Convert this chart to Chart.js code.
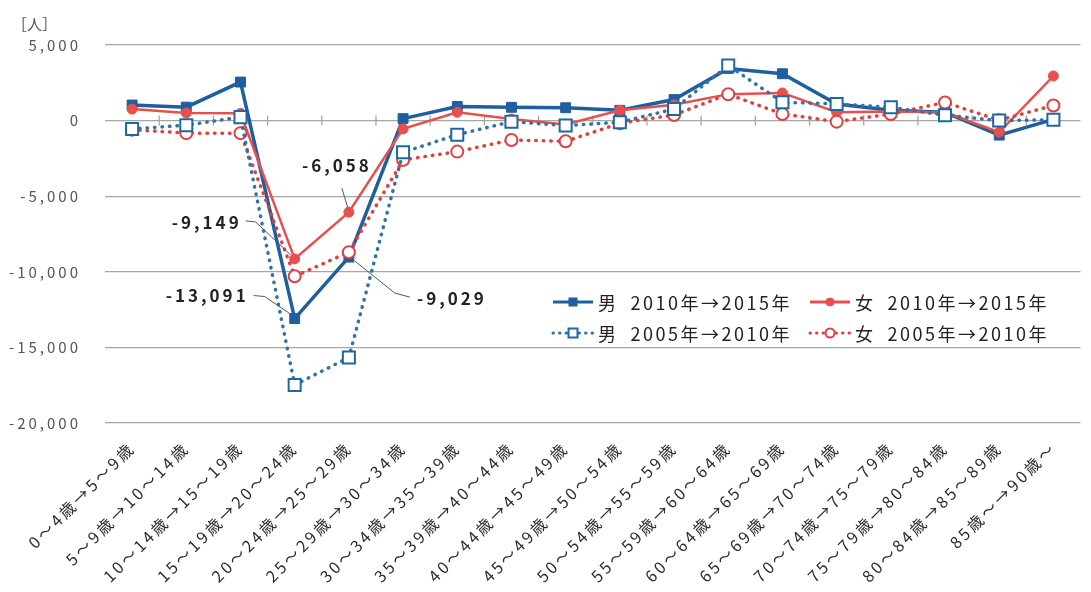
<!DOCTYPE html>
<html lang="ja">
<head>
<meta charset="utf-8">
<title>年齢階級別 人口の増減</title>
<script src="https://cdn.jsdelivr.net/npm/chart.js@4.4.1/dist/chart.umd.min.js"></script>
<style>
  html, body { margin: 0; padding: 0; background: #fff; }
  #wrap { position: relative; width: 1091px; height: 592px; }
  #unit {
    position: absolute; left: 12px; top: 13px;
    font: 15px "Noto Sans CJK JP", sans-serif; color: #555;
  }
  #legend {
    position: absolute; left: 551px; top: 286px;
    font-family: "Noto Sans CJK JP", sans-serif; font-size: 18px;
    color: #222; letter-spacing: 2.5px;
  }
  .row { display: flex; align-items: center; height: 31px; }
  .item { display: flex; align-items: center; width: 257px; white-space: nowrap; }
  .item svg { width: 44px; height: 20px; margin-right: 3px; }
  .item .period { margin-left: 12px; }
</style>
</head>
<body>
<div id="wrap">
  <canvas id="chart" width="1091" height="592"></canvas>
  <div id="unit">［人］</div>
  <div id="legend"></div>
</div>

<script>
'use strict';

// ============================================================
// データ（人口の純増減, 人）
// ============================================================
const CATEGORIES = [
  '0～4歳→5～9歳', '5～9歳→10～14歳', '10～14歳→15～19歳', '15～19歳→20～24歳',
  '20～24歳→25～29歳', '25～29歳→30～34歳', '30～34歳→35～39歳', '35～39歳→40～44歳',
  '40～44歳→45～49歳', '45～49歳→50～54歳', '50～54歳→55～59歳', '55～59歳→60～64歳',
  '60～64歳→65～69歳', '65～69歳→70～74歳', '70～74歳→75～79歳', '75～79歳→80～84歳',
  '80～84歳→85～89歳', '85歳～→90歳～',
];

const MALE_2010_2015   = [1030, 890, 2550, -13091, -9029, 130, 930, 880, 850, 680, 1390, 3450, 3100, 1100, 680, 550, -960, 80];
const FEMALE_2010_2015 = [760, 500, 480, -9149, -6058, -550, 550, 100, -250, 680, 1050, 1750, 1830, 550, 600, 550, -770, 2950];
const MALE_2005_2010   = [-560, -300, 230, -17480, -15670, -2100, -930, -70, -330, -110, 770, 3650, 1215, 1100, 880, 360, 0, 50];
const FEMALE_2005_2010 = [-600, -830, -830, -10300, -8700, -2600, -2050, -1280, -1370, -180, 375, 1740, 440, -70, 440, 1200, 30, 1000];

const Y_MIN = -20000;
const Y_MAX = 5000;
const Y_STEP = 5000;

// 値ラベルを付ける点（系列キー, カテゴリ番号）
const CALLOUTS = [
  { series: 'male2010',   index: 3 },
  { series: 'female2010', index: 3 },
  { series: 'female2010', index: 4 },
  { series: 'male2010',   index: 4 },
];

// ============================================================
// スタイル
// ============================================================
const FONT = '"Noto Sans CJK JP", "Noto Sans", sans-serif';
const BLUE = '#1f5f9f';
const BLUE_DOT = '#2f74a8';
const RED = '#e8504e';
const RED_DOT = '#e0403f';
const GRID = '#a6a6a6';

const SERIES = {
  male2005: {
    label: '男', period: '2005年→2010年', data: MALE_2005_2010,
    borderColor: BLUE_DOT, borderWidth: 3.5, borderDash: [0.5, 7], borderCapStyle: 'round',
    pointStyle: 'rect', pointRadius: 8.5, pointBorderWidth: 2,
    pointBorderColor: '#1f67a3', pointBackgroundColor: '#fff',
  },
  female2005: {
    label: '女', period: '2005年→2010年', data: FEMALE_2005_2010,
    borderColor: RED_DOT, borderWidth: 3.5, borderDash: [0.5, 7], borderCapStyle: 'round',
    pointStyle: 'circle', pointRadius: 6, pointBorderWidth: 2,
    pointBorderColor: RED_DOT, pointBackgroundColor: '#fff',
  },
  female2010: {
    label: '女', period: '2010年→2015年', data: FEMALE_2010_2015,
    borderColor: RED, borderWidth: 2.5,
    pointStyle: 'circle', pointRadius: 5, pointBorderWidth: 1,
    pointBorderColor: RED, pointBackgroundColor: RED,
  },
  male2010: {
    label: '男', period: '2010年→2015年', data: MALE_2010_2015,
    borderColor: BLUE, borderWidth: 3.5,
    pointStyle: 'rect', pointRadius: 7, pointBorderWidth: 1,
    pointBorderColor: BLUE, pointBackgroundColor: BLUE,
  },
};

// 描画順（先頭が最前面）
const DRAW_ORDER = ['male2005', 'female2005', 'female2010', 'male2010'];
// 凡例の並び
const LEGEND_ROWS = [['male2010', 'female2010'], ['male2005', 'female2005']];

// 値ラベルの位置（点からの相対, px）
const CALLOUT_LAYOUT = {
  'male2010-3':   { tx: -46, ty: -23, align: 'right',  path: [[-41, -23], [-30, -22], [-5, -5]] },
  'female2010-3': { tx: -53, ty: -36, align: 'right',  path: [[-49, -38], [-39, -37], [-4, -4]] },
  'female2010-4': { tx: -12, ty: -47, align: 'center', path: [[-7, -24], [-1, -4]] },
  'male2010-4':   { tx: 68,  ty: 41,  align: 'left',   path: [[61, 40], [46, 36], [6, 4]] },
};

// ============================================================
// プラグイン
// ============================================================
// 文字間隔（元図のような字間の広い表示）
// y 軸ラベルは通常描画、x 軸ラベルはデータの後（z:1）で広めの字間にする
const letterSpacing = {
  id: 'letterSpacing',
  beforeUpdate(chart) { chart.ctx.letterSpacing = '3px'; },
  beforeDraw(chart) { chart.ctx.letterSpacing = '3px'; },
  afterDatasetsDraw(chart) { chart.ctx.letterSpacing = '4.5px'; },
};

// 0 の軸上の目盛り（カテゴリ境界）
const zeroAxisTicks = {
  id: 'zeroAxisTicks',
  beforeDatasetsDraw(chart) {
    const { ctx, scales: { x, y } } = chart;
    const y0 = y.getPixelForValue(0);
    ctx.save();
    ctx.strokeStyle = GRID;
    ctx.lineWidth = 1.3;
    for (let i = 1; i < CATEGORIES.length; i++) {
      const px = (x.getPixelForValue(i - 1) + x.getPixelForValue(i)) / 2;
      ctx.beginPath();
      ctx.moveTo(px, y0 - 5);
      ctx.lineTo(px, y0 + 5);
      ctx.stroke();
    }
    ctx.restore();
  },
};

// 値ラベル（引き出し線つき）
const callouts = {
  id: 'callouts',
  afterDatasetsDraw(chart) {
    const { ctx, scales: { x, y } } = chart;
    ctx.save();
    ctx.letterSpacing = '3px';
    CALLOUTS.forEach(c => {
      const value = SERIES[c.series].data[c.index];
      const px = x.getPixelForValue(c.index);
      const py = y.getPixelForValue(value);
      const lay = CALLOUT_LAYOUT[`${c.series}-${c.index}`];

      ctx.strokeStyle = '#555';
      ctx.lineWidth = 1;
      ctx.beginPath();
      lay.path.forEach(([dx, dy], i) => {
        if (i === 0) ctx.moveTo(px + dx, py + dy);
        else ctx.lineTo(px + dx, py + dy);
      });
      ctx.stroke();

      ctx.fillStyle = '#222';
      ctx.font = `bold 17px ${FONT}`;
      ctx.textAlign = lay.align;
      ctx.textBaseline = 'middle';
      ctx.fillText(value.toLocaleString('en-US'), px + lay.tx, py + lay.ty);
    });
    ctx.restore();
  },
};

// ============================================================
// チャート
// ============================================================
const datasets = DRAW_ORDER.map((key, i) => {
  const s = SERIES[key];
  return Object.assign({}, s, {
    label: `${s.label} ${s.period}`,
    order: i,
    tension: 0,
    fill: false,
    pointHoverRadius: s.pointRadius,
  });
});

new Chart(document.getElementById('chart'), {
  type: 'line',
  data: { labels: CATEGORIES, datasets },
  options: {
    responsive: false,
    animation: false,
    devicePixelRatio: 1,
    layout: { padding: { top: 45, right: 0, bottom: 0, left: 0 } },
    plugins: {
      legend: { display: false },
      tooltip: { enabled: false },
    },
    scales: {
      x: {
        offset: true,
        z: 1,
        grid: { display: false, drawTicks: false },
        border: { display: false },
        ticks: {
          autoSkip: false,
          minRotation: 45,
          maxRotation: 45,
          padding: 15,
          color: '#2a2a2a',
          font: { family: FONT, size: 16 },
        },
        afterFit(scale) {
          scale.height = 169;
          scale.paddingLeft = 0;
          scale.paddingRight = 0;
        },
      },
      y: {
        min: Y_MIN,
        max: Y_MAX,
        grid: { color: GRID, lineWidth: 1.3, drawTicks: false },
        border: { display: false },
        ticks: {
          stepSize: Y_STEP,
          padding: 24,
          color: '#555',
          font: { family: FONT, size: 15 },
          callback: v => v.toLocaleString('en-US'),
        },
        afterFit(scale) {
          scale.width = 105;
        },
      },
    },
  },
  plugins: [zeroAxisTicks, callouts, letterSpacing],
});

// ============================================================
// 凡例（HTML）
// ============================================================
function markerSvg(s) {
  const dash = s.borderDash ? 'stroke-dasharray="0.5 6" stroke-linecap="round"' : '';
  let mark;
  if (s.pointStyle === 'rect') {
    const side = s.pointBackgroundColor === '#fff' ? 9 : 8;
    mark = `<rect x="${22 - side / 2}" y="${10 - side / 2}" width="${side}" height="${side}"
             fill="${s.pointBackgroundColor}" stroke="${s.pointBorderColor}" stroke-width="${s.pointBorderWidth}"/>`;
  } else {
    const r = s.pointBackgroundColor === '#fff' ? 4.5 : 4;
    mark = `<circle cx="22" cy="10" r="${r}" fill="${s.pointBackgroundColor}"
             stroke="${s.pointBorderColor}" stroke-width="${s.pointBorderWidth}"/>`;
  }
  return `<svg viewBox="0 0 44 20"><line x1="2" y1="10" x2="42" y2="10"
           stroke="${s.borderColor}" stroke-width="3" ${dash}/>${mark}</svg>`;
}

const legendEl = document.getElementById('legend');
legendEl.innerHTML = LEGEND_ROWS.map(row =>
  '<div class="row">' + row.map(key => {
    const s = SERIES[key];
    return `<div class="item">${markerSvg(s)}<span>${s.label}</span><span class="period">${s.period}</span></div>`;
  }).join('') + '</div>'
).join('');
</script>
</body>
</html>
